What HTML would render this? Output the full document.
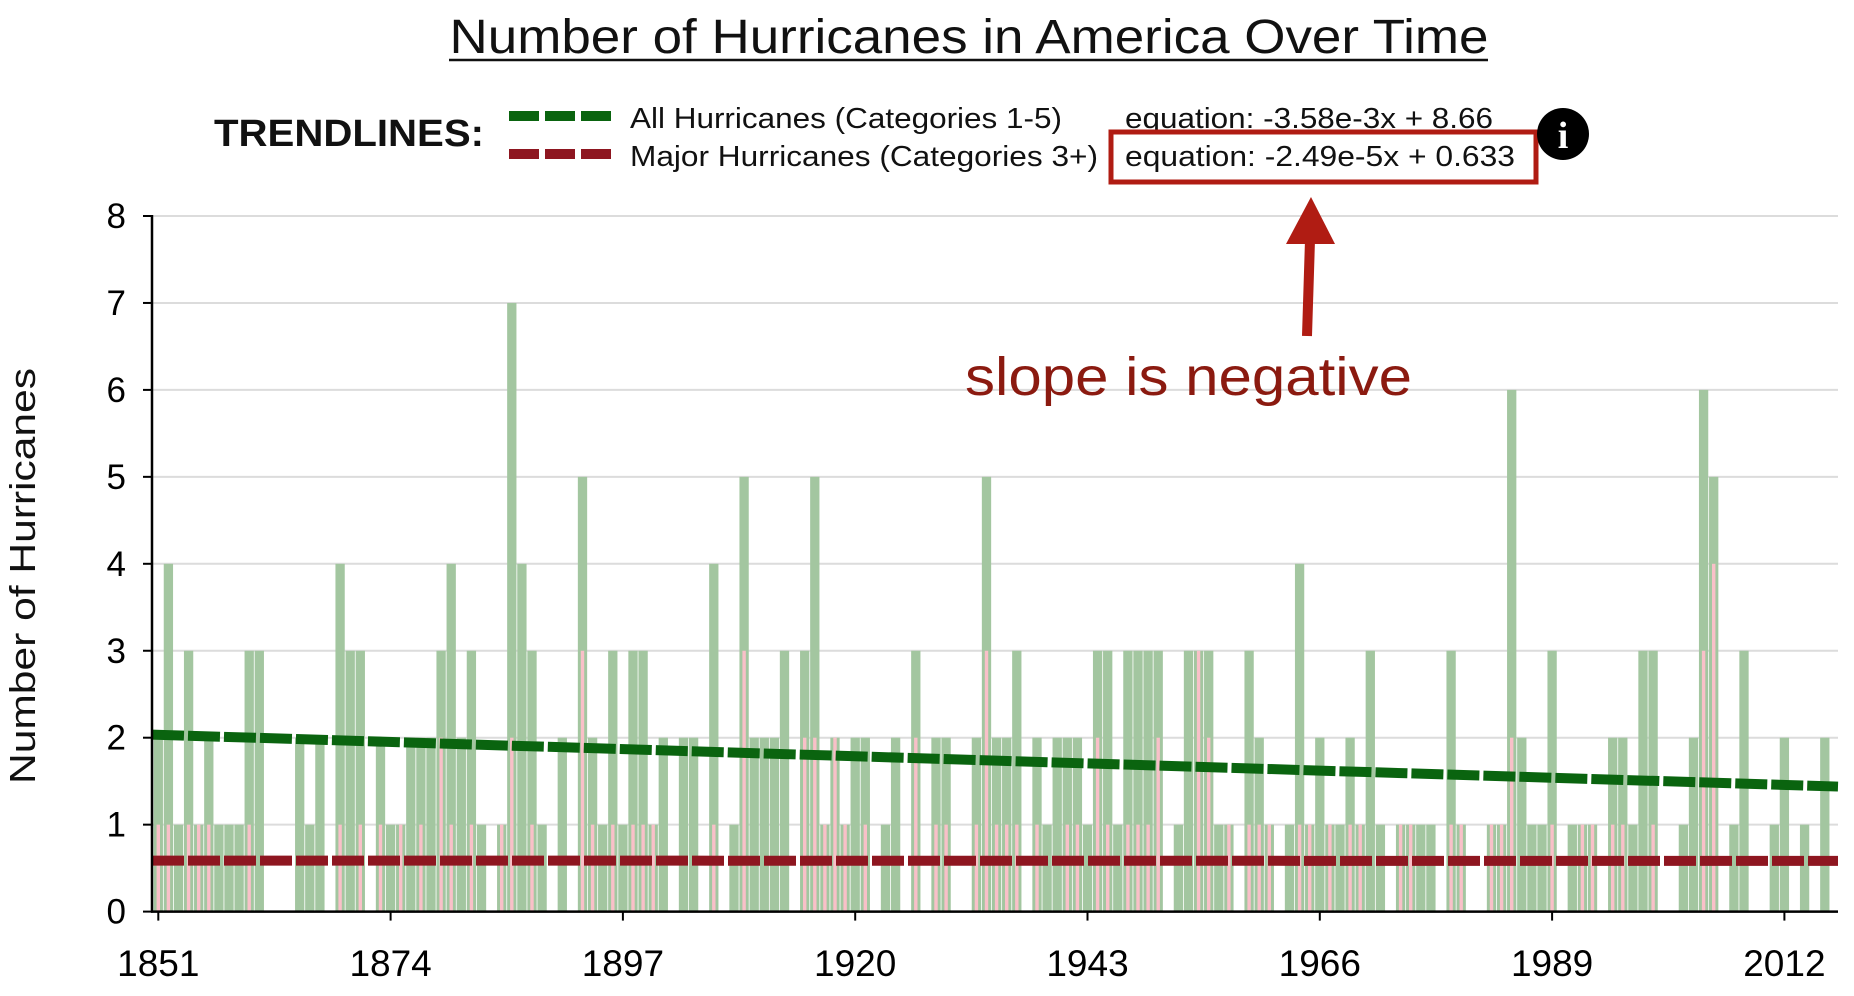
<!DOCTYPE html>
<html><head><meta charset="utf-8">
<style>
html,body{margin:0;padding:0;background:#fff;}
svg{display:block;font-family:"Liberation Sans",sans-serif;}
</style></head>
<body>
<svg id="chart" width="1854" height="996" viewBox="0 0 1854 996">
  <text x="969" y="53" text-anchor="middle" font-size="48" textLength="1039" lengthAdjust="spacingAndGlyphs" fill="#111">Number of Hurricanes in America Over Time</text>
  <line x1="449" y1="60" x2="1488" y2="60" stroke="#111" stroke-width="2.5"/>

  <g>
    <text x="214" y="146" font-size="38" font-weight="bold" textLength="270" lengthAdjust="spacingAndGlyphs" fill="#111">TRENDLINES:</text>
    <line x1="509" y1="116" x2="612" y2="116" stroke="#0a640f" stroke-width="10" stroke-dasharray="30,6"/>
    <line x1="509" y1="154" x2="612" y2="154" stroke="#8e1620" stroke-width="10" stroke-dasharray="30,6"/>
    <text x="630" y="128" font-size="29" textLength="432" lengthAdjust="spacingAndGlyphs" fill="#111">All Hurricanes (Categories 1-5)</text>
    <text x="630" y="166" font-size="29" textLength="468" lengthAdjust="spacingAndGlyphs" fill="#111">Major Hurricanes (Categories 3+)</text>
    <text x="1125" y="128" font-size="29" textLength="368" lengthAdjust="spacingAndGlyphs" fill="#111">equation: -3.58e-3x + 8.66</text>
    <text x="1125" y="166" font-size="29" textLength="390" lengthAdjust="spacingAndGlyphs" fill="#111">equation: -2.49e-5x + 0.633</text>
    <rect x="1111" y="132" width="425" height="50" fill="none" stroke="#b01c13" stroke-width="5"/>
    <g>
      <circle cx="1563" cy="134" r="26" fill="#000"/>
      <text x="1563" y="148" text-anchor="middle" font-size="38" font-weight="bold" font-family="Liberation Serif,serif" fill="#fff">i</text>
    </g>
  </g>

  <g id="plot"></g>

  <g>
    <line x1="1307" y1="336" x2="1310" y2="240" stroke="#b01c13" stroke-width="10"/>
    <polygon points="1311,197 1286,244 1335,244" fill="#b01c13"/>
    <text x="965" y="395" font-size="54" textLength="447" lengthAdjust="spacingAndGlyphs" fill="#8b1a10">slope is negative</text>
  </g>

  <text transform="translate(35,576) rotate(-90)" text-anchor="middle" font-size="36" textLength="416" lengthAdjust="spacingAndGlyphs" fill="#111">Number of Hurricanes</text>
</svg>
<script>
const startYear = 1851;
const allCounts = [
2,4,1,3,1,2,1,1,1,3,
3,0,0,0,2,1,2,0,4,3,
3,0,2,1,1,2,2,2,3,4,
2,3,1,0,1,7,4,3,1,0,
2,0,5,2,1,3,1,3,3,1,
2,0,2,2,0,4,0,1,5,2,
2,2,3,0,3,5,1,2,1,2,
2,0,1,2,0,3,0,2,2,0,
0,2,5,2,2,3,0,2,1,2,
2,2,1,3,3,1,3,3,3,3,
0,1,3,3,3,1,1,0,3,2,
1,0,1,4,1,2,1,1,2,1,
3,1,0,1,1,1,1,0,3,1,
0,0,1,1,6,2,1,1,3,0,
1,1,1,0,2,2,1,3,3,0,
0,1,2,6,5,0,1,3,0,0,
1,2,0,1,0,2];
const majorCounts = [
1,1,0,1,1,1,0,0,0,1,
0,0,0,0,0,0,0,0,1,0,
1,0,1,0,1,0,1,0,2,1,
0,1,0,0,1,2,0,1,0,0,
0,0,3,1,0,1,0,1,1,1,
0,0,0,0,0,1,0,0,3,0,
0,0,0,0,2,2,1,2,1,0,
1,0,0,0,0,2,0,1,1,0,
0,1,3,1,1,1,0,1,0,0,
1,1,0,2,1,0,1,1,1,2,
0,0,0,3,2,0,1,0,1,1,
1,0,0,1,1,0,1,0,1,1,
0,0,0,1,1,0,0,0,1,1,
0,0,1,1,2,0,0,0,1,0,
0,1,1,0,1,1,0,0,1,0,
0,0,0,3,4,0,0,0,0,0,
0,0,0,0,0,0];
const yTicks = [0,1,2,3,4,5,6,7,8];
const xTickYears = [1851,1874,1897,1920,1943,1966,1989,2012];
const allTrend = [-3.58e-3, 8.66];
const majorTrend = [-2.49e-5, 0.633];

const NS = "http://www.w3.org/2000/svg";
const plot = document.getElementById('plot');
const X0 = 152, XR = 1838, Y0 = 911.6, YTOP = 216, STEP = 10.1, C0 = 158.3;
const yMax = 8;
const yScale = v => Y0 - v * (Y0 - YTOP) / yMax;
const xScale = yr => C0 + (yr - startYear) * STEP;
function mk(tag, attrs, parent) {
  const e = document.createElementNS(NS, tag);
  for (const k in attrs) e.setAttribute(k, attrs[k]);
  (parent || plot).appendChild(e);
  return e;
}
yTicks.forEach(v => {
  const y = yScale(v);
  if (v > 0) {
    const g = mk('line', {x1: X0, x2: XR, y1: y, y2: y, stroke: '#dcdcdc', 'stroke-width': 2});
    
    
  }
  const t = mk('line', {x1: X0 - 9, x2: X0, y1: y, y2: y, stroke: '#000', 'stroke-width': 2});
  
  
  const l = mk('text', {x: 126, y: y + 12, 'text-anchor': 'end', 'font-size': 35, fill: '#000'});
  l.textContent = v;
  
  
});
const BW = 9.3, PW = 3.4;
allCounts.forEach((v, i) => {
  const yr = startYear + i, cx = xScale(yr);
  if (v > 0) {
    const b = mk('rect', {x: cx - BW / 2, y: yScale(v), width: BW, height: Y0 - yScale(v), fill: '#a3c6a0'});
    
    
  }
  const m = majorCounts[i];
  if (m > 0) {
    const p = mk('rect', {x: cx - PW / 2, y: yScale(m), width: PW, height: Y0 - yScale(m), fill: '#f9c0c8'});
    
    
  }
});
[[allTrend, '#0a640f', 'trendline-all'], [majorTrend, '#8e1620', 'trendline-major']].forEach(([tr, col, nm]) => {
  const xa = X0, xb = XR;
  const yb = yScale(tr[0] * (startYear + (xb - C0) / STEP) + tr[1]);
  const yaa = yScale(tr[0] * (startYear + (xa - C0) / STEP) + tr[1]);
  const ln = mk('line', {x1: xa, y1: yaa, x2: xb, y2: yb, stroke: col, 'stroke-width': 10, 'stroke-dasharray': '32,4'});
  
  
});
const ya = mk('line', {x1: X0, x2: X0, y1: YTOP - 1, y2: Y0 + 1, stroke: '#000', 'stroke-width': 2.5});


const xa = mk('line', {x1: X0 - 1, x2: XR, y1: Y0, y2: Y0, stroke: '#000', 'stroke-width': 2.5});


xTickYears.forEach(yr => {
  const x = xScale(yr);
  const t = mk('line', {x1: x, x2: x, y1: Y0, y2: Y0 + 9, stroke: '#000', 'stroke-width': 2});
  
  
  const l = mk('text', {x: x, y: 976, 'text-anchor': 'middle', 'font-size': 37, fill: '#000'});
  l.textContent = yr;
  
  
});
</script>
</body></html>
